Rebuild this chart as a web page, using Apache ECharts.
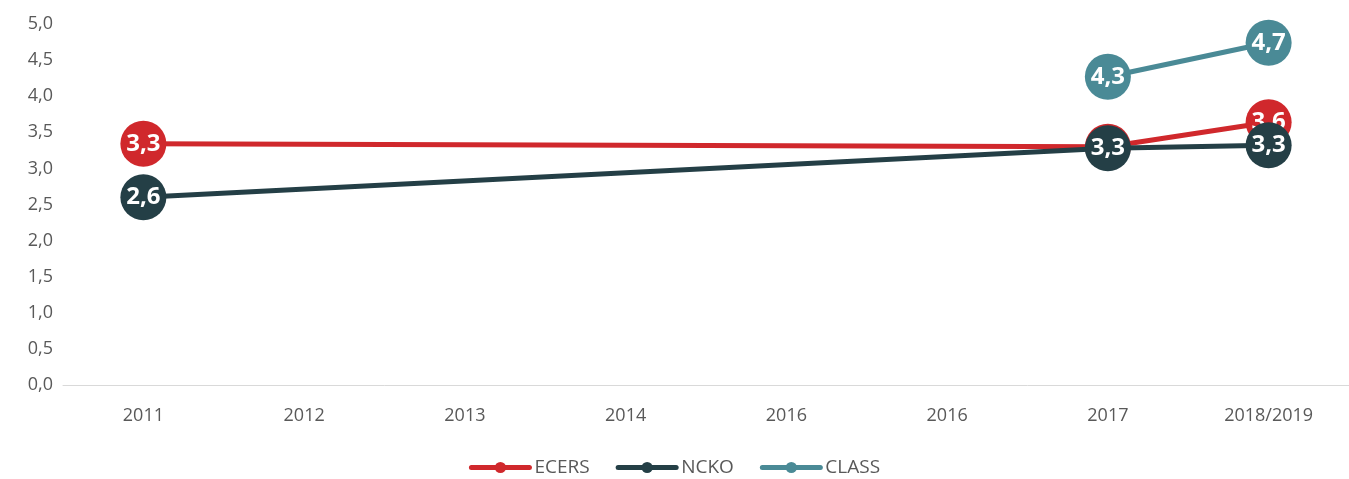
<!DOCTYPE html>
<html>
<head>
<meta charset="utf-8">
<script src="https://cdn.jsdelivr.net/npm/echarts@6/dist/echarts.min.js"></script>
<style>
  html, body { margin: 0; padding: 0; background: #fff; }
  #chart { width: 1349px; height: 479px; }
</style>
</head>
<body>
<div id="chart"></div>
<script>
// categories (the source really repeats 2016)
const years = ["2011", "2012", "2013", "2014", "2016", "2016", "2017", "2018/2019"];
const ecers = [3.34, null, null, null, null, null, 3.30, 3.64];
const ncko = [2.60, null, null, null, null, null, 3.28, 3.32];
const classScores = [null, null, null, null, null, null, 4.27, 4.74];

const colors = { ECERS: "#D0282C", NCKO: "#243F46", CLASS: "#4A8A96" };

// decimal comma like the original
function fmt(v) {
  return Number(v).toFixed(1).replace(".", ",");
}

function lineSeries(name, data, z) {
  return {
    name: name,
    type: "line",
    z: z,
    data: data,
    connectNulls: true,
    symbol: "circle",
    symbolSize: 46,
    lineStyle: { width: 5, color: colors[name] },
    itemStyle: { color: colors[name] },
    label: {
      show: true,
      position: "inside",
      color: "#fff",
      fontFamily: "Open Sans",
      fontWeight: "bold",
      fontSize: 24,
      formatter: function (p) { return fmt(p.value); }
    },
    emphasis: { disabled: true }
  };
}

const chart = echarts.init(document.getElementById("chart"));
chart.setOption({
  animation: false,
  grid: { left: 63, right: 0, top: 24, bottom: 94 },
  legend: {
    bottom: -3,
    left: "center",
    itemWidth: 58,
    itemHeight: 14,
    itemGap: 26,
    lineStyle: { width: 5, cap: "round" },
    textStyle: { color: "#595959", fontSize: 19, fontFamily: "Open Sans" },
    data: ["ECERS", "NCKO", "CLASS"]
  },
  xAxis: {
    type: "category",
    data: years,
    boundaryGap: true,
    axisLine: { lineStyle: { color: "#d9d9d9", width: 1 } },
    axisTick: { show: false },
    axisLabel: { color: "#595959", fontSize: 18, fontFamily: "Open Sans", margin: 22 }
  },
  yAxis: {
    type: "value",
    min: 0,
    max: 5,
    interval: 0.5,
    splitLine: { show: false },
    axisLine: { show: false },
    axisTick: { show: false },
    axisLabel: {
      color: "#595959", fontSize: 18, fontFamily: "Open Sans", margin: 10,
      formatter: function (v) { return fmt(v); }
    }
  },
  series: [
    lineSeries("ECERS", ecers, 2),
    lineSeries("NCKO", ncko, 3),
    lineSeries("CLASS", classScores, 4)
  ]
});
</script>
</body>
</html>
